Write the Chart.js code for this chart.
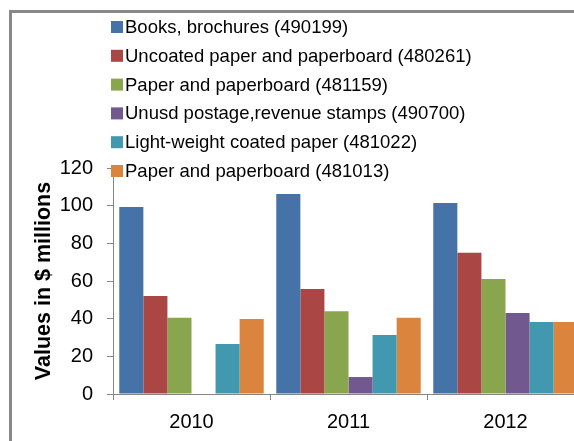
<!DOCTYPE html>
<html>
<head>
<meta charset="utf-8">
<script src="https://cdn.jsdelivr.net/npm/chart.js@4"></script>
<style>
    html, body { margin: 0; padding: 0; overflow: hidden; background: #fff; width: 574px; height: 441px; }
    #frame {
        position: absolute; left: 9px; top: 10px; width: 700px; height: 600px;
        border-left: 3px solid #898989; border-top: 3px solid #898989;
    }
    #wrap { position: absolute; left: 0; top: 0; width: 590px; height: 441px; }
</style>
</head>
<body>
<div id="frame"></div>
<div id="wrap"><canvas id="graphique" width="590" height="441"></canvas></div>
<script>
// Données
const years = ["2010", "2011", "2012"];
const labels = [
    "Books, brochures (490199)",
    "Uncoated paper and paperboard (480261)",
    "Paper and paperboard (481159)",
    "Unusd postage,revenue stamps (490700)",
    "Light-weight coated paper (481022)",
    "Paper and paperboard (481013)"
];
const books = [99.3, 106.2, 101.4];
const uncoated = [52, 55.8, 75];
const paper481159 = [40.5, 44, 61];
const stamps = [0, 9, 43];
const lightCoated = [26.5, 31.3, 38.2];
const paper481013 = [39.8, 40.5, 38.2];
const colors = ["#4572A7", "#AA4643", "#89A54E", "#71588F", "#4198AF", "#DB843D"];
const yTicks = [0, 20, 40, 60, 80, 100, 120];

const series = [books, uncoated, paper481159, stamps, lightCoated, paper481013];
const FONT = "'Liberation Sans', Arial, sans-serif";

// Légende dessinée par-dessus la zone du graphique
const floatingLegend = {
    id: "floatingLegend",
    afterDraw(chart) {
        const ctx = chart.ctx;
        ctx.save();
        ctx.font = "18.5px " + FONT;
        ctx.textBaseline = "middle";
        chart.data.datasets.forEach((ds, i) => {
            const y = 27 + i * 28.8;
            ctx.fillStyle = ds.backgroundColor;
            ctx.fillRect(111, y - 6, 12, 12);
            ctx.fillStyle = "#000";
            ctx.fillText(ds.label, 125, y + 1);
        });
        ctx.restore();
    }
};

new Chart(document.getElementById("graphique"), {
    type: "bar",
    data: {
        labels: years,
        datasets: series.map((vals, i) => ({
            label: labels[i],
            data: vals,
            backgroundColor: colors[i],
            borderWidth: 0,
            categoryPercentage: 0.92,
            barPercentage: 1.0
        }))
    },
    options: {
        responsive: false,
        animation: false,
        layout: { padding: { top: 168, right: 6, bottom: 0, left: 0 } },
        plugins: { legend: { display: false }, tooltip: { enabled: false } },
        scales: {
            x: {
                afterFit: s => { s.height = 47; },
                grid: { drawOnChartArea: false, color: "#868686", tickLength: 6, offset: true },
                border: { color: "#868686", width: 1 },
                ticks: { color: "#000", padding: 10, font: { family: FONT, size: 20 } }
            },
            y: {
                min: 0,
                max: 120,
                afterFit: s => { s.width = 113; },
                afterBuildTicks: s => { s.ticks = yTicks.map(v => ({ value: v })); },
                grid: { drawOnChartArea: false, color: "#868686", tickLength: 6 },
                border: { color: "#868686", width: 1 },
                ticks: { color: "#000", padding: 14, font: { family: FONT, size: 20 } },
                title: {
                    display: true,
                    text: "Values in $ millions",
                    color: "#000",
                    padding: { top: 31, bottom: 0 },
                    font: { family: FONT, size: 21.5, weight: "bold" }
                }
            }
        }
    },
    plugins: [floatingLegend]
});
</script>
</body>
</html>
